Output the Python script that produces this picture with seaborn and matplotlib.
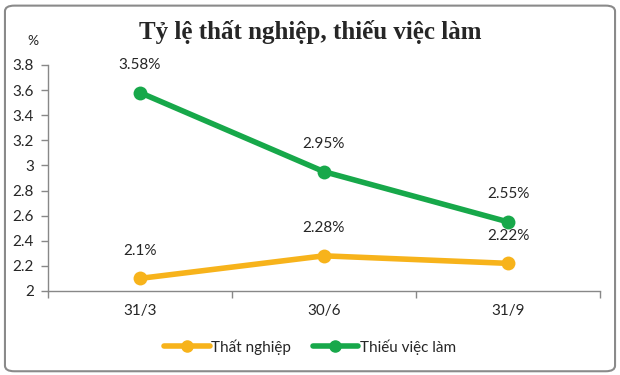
import matplotlib
matplotlib.use("Agg")
import matplotlib.pyplot as plt
from matplotlib.patches import FancyBboxPatch
import seaborn as sns
import pandas as pd

categories = ["31/3", "30/6", "31/9"]
that_nghiep = [2.1, 2.28, 2.22]
thieu_viec_lam = [3.58, 2.95, 2.55]
series_names = ["Thất nghiệp", "Thiếu việc làm"]
yticks = [2, 2.2, 2.4, 2.6, 2.8, 3, 3.2, 3.4, 3.6, 3.8]
ytick_labels = ["2", "2.2", "2.4", "2.6", "2.8", "3", "3.2", "3.4", "3.6", "3.8"]

sns.set_theme(style="white")
plt.rcParams["font.family"] = ["Lato", "DejaVu Sans"]

df = pd.DataFrame({
    "x": list(range(len(categories))) * 2,
    "value": that_nghiep + thieu_viec_lam,
    "series": [series_names[0]] * 3 + [series_names[1]] * 3,
})
colors = {series_names[0]: "#F7B31B", series_names[1]: "#17A84A"}

fig = plt.figure(figsize=(6.2, 3.75), dpi=100)
ax = fig.add_axes([0.077, 0.224, 0.891, 0.603])
sns.lineplot(data=df, x="x", y="value", hue="series", palette=colors,
             marker="o", markersize=10, linewidth=4, markeredgewidth=0,
             ax=ax, legend=False)

ax.set_xlim(-0.5, 2.5)
ax.set_ylim(2, 3.8)
ax.set_xticks(range(len(categories)))
ax.set_xticklabels(categories, fontsize=11)
ax.set_xticks([-0.5, 0.5, 1.5, 2.5], minor=True)
ax.set_yticks(yticks)
ax.set_yticklabels(ytick_labels, fontsize=11)
ax.tick_params(axis="x", which="major", length=0, pad=9)
ax.tick_params(axis="x", which="minor", length=5, direction="out", color="#888888", width=1, bottom=True)
ax.tick_params(axis="y", length=5, direction="out", color="#888888", width=1, left=True, pad=5)
ax.set_xlabel("")
ax.set_ylabel("")
for s in ["top", "right"]:
    ax.spines[s].set_visible(False)
for s in ["left", "bottom"]:
    ax.spines[s].set_color("#888888")
    ax.spines[s].set_linewidth(1)

for i, v in enumerate(that_nghiep):
    ax.annotate(f"{v:g}%", (i, v), xytext=(0, 15), textcoords="offset points",
                ha="center", va="bottom", fontsize=11)
for i, v in enumerate(thieu_viec_lam):
    ax.annotate(f"{v:g}%", (i, v), xytext=(0, 15), textcoords="offset points",
                ha="center", va="bottom", fontsize=11)

fig.text(0.5, 0.915, "Tỷ lệ thất nghiệp, thiếu việc làm", ha="center", va="center",
         fontsize=18, fontweight="bold", family=["Liberation Serif", "DejaVu Serif"])
fig.text(0.053, 0.89, "%", ha="center", va="center", fontsize=10)

handles = [plt.Line2D([0], [0], color=colors[n], lw=4, marker="o", markersize=8) for n in series_names]
fig.legend(handles, series_names, loc="center", bbox_to_anchor=(0.5, 0.075), ncol=2,
           frameon=False, fontsize=11, handlelength=3.0, handletextpad=0.1, columnspacing=1.4)

border = FancyBboxPatch((0.008, 0.01), 0.984, 0.975, boxstyle="round,pad=0,rounding_size=0.015",
                        transform=fig.transFigure, fill=False, edgecolor="#8a8a8a", linewidth=1.5)
fig.patches.append(border)

fig.savefig("out.png", dpi=100)
